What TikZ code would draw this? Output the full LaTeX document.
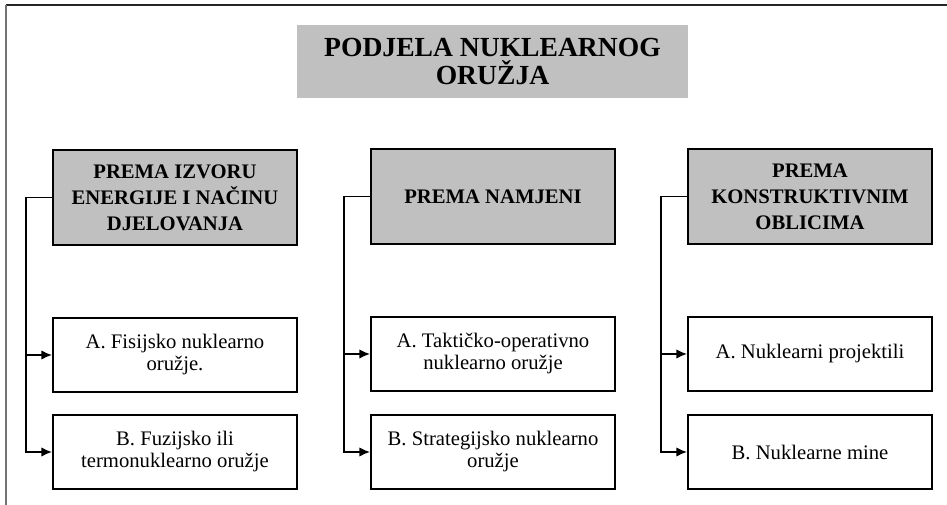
\documentclass[tikz,border=0pt]{standalone}
\usepackage{fontspec}
\setmainfont{Liberation Serif}
\usetikzlibrary{arrows.meta}
\definecolor{grisbox}{RGB}{192,192,192}
\begin{document}
\begin{tikzpicture}[x=0.75pt,y=-0.75pt,
    titulo/.style={fill=grisbox, minimum width=293pt, minimum height=55pt, align=center,
        font=\fontsize{20.7}{21}\selectfont\bfseries},
    glavni/.style={draw, line width=1.5pt, fill=grisbox, minimum width=183pt, minimum height=71pt,
        align=center, font=\fontsize{15.5}{19.5}\selectfont\bfseries},
    stavka/.style={draw, line width=1.3pt, minimum width=183pt, minimum height=55pt,
        align=center, font=\fontsize{15.5}{16.5}\selectfont},
    flecha/.style={line width=1.4pt, -{Latex[length=8pt,width=7pt]}}]
    \useasboundingbox (0,0) rectangle (947,505);
    % Dibuja el marco
    \draw[line width=1.5pt, black!85] (6,5) -- (947,5);
    \draw[line width=1pt, black!55] (6,5) -- (6,505);

    % Dibuja el titulo
    \node[titulo] (naslov) at (492.5,61.5) {PODJELA NUKLEARNOG\\ORUŽJA};

    % Dibuja las cajas principales
    \node[glavni] (h1) at (175,197.5) {PREMA IZVORU\\ENERGIJE I NAČINU\\DJELOVANJA};
    \node[glavni] (h2) at (493,196.5) {PREMA NAMJENI};
    \node[glavni] (h3) at (810,196.5) {PREMA\\KONSTRUKTIVNIM\\OBLICIMA};

    % Dibuja las cajas de los tipos
    \node[stavka] (a1) at (175,355) {A. Fisijsko nuklearno\\oružje.};
    \node[stavka] (b1) at (175,452) {B. Fuzijsko ili\\termonuklearno oružje};
    \node[stavka] (a2) at (493,354) {A. Taktičko-operativno\\nuklearno oružje};
    \node[stavka] (b2) at (493,452) {B. Strategijsko nuklearno\\oružje};
    \node[stavka] (a3) at (810,354) {A. Nuklearni projektili};
    \node[stavka] (b3) at (810,452) {B. Nuklearne mine};

    % Dibuja las flechas
    \foreach \i in {1,2,3} {
        \draw[flecha] (h\i.west) -- ++(-26,0) |- (a\i.west);
        \draw[flecha] (h\i.west) -- ++(-26,0) |- (b\i.west);
    }
\end{tikzpicture}
\end{document}
